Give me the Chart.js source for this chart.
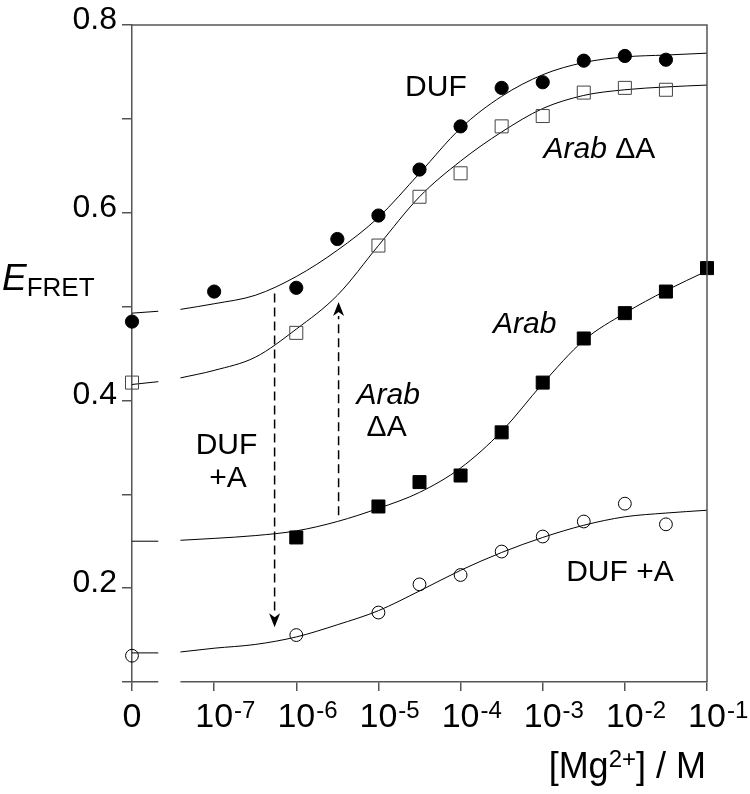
<!DOCTYPE html>
<html><head><meta charset="utf-8">
<script src="https://cdn.jsdelivr.net/npm/chart.js@4.4.1/dist/chart.umd.min.js"></script>
<style>html,body{margin:0;padding:0;background:#fff}#wrap{width:750px;height:794px}</style>
</head><body><div id="wrap"><canvas id="c" width="750" height="794"></canvas></div>
<script>
// x values are log10([Mg2+] / M); [Mg2+] = 0 is plotted on the stub at log position -8
const xTickValues = [-8, -7, -6, -5, -4, -3, -2, -1];
const xTickBase = ['0', '10', '10', '10', '10', '10', '10', '10'];
const xTickExp = ['', '-7', '-6', '-5', '-4', '-3', '-2', '-1'];
const yTickValues = [0.1, 0.2, 0.3, 0.4, 0.5, 0.6, 0.7, 0.8];
const yTickLabels = ['', '0.2', '', '0.4', '', '0.6', '', '0.8'];
const axisBreak = [-7.68, -7.41];

// measured points
const dufX = [-8, -7, -6, -5.5, -5, -4.5, -4, -3.5, -3, -2.5, -2, -1.5];
const dufY = [0.484, 0.516, 0.520, 0.572, 0.597, 0.646, 0.692, 0.733, 0.739, 0.762, 0.767, 0.763];
const arabDAX = [-8, -6, -5, -4.5, -4, -3.5, -3, -2.5, -2, -1.5];
const arabDAY = [0.419, 0.472, 0.565, 0.617, 0.642, 0.692, 0.703, 0.728, 0.733, 0.731];
const arabX = [-6, -5, -4.5, -4, -3.5, -3, -2.5, -2, -1.5, -1];
const arabY = [0.254, 0.287, 0.313, 0.320, 0.366, 0.419, 0.466, 0.493, 0.516, 0.541];
const dufAX = [-8, -6, -5, -4.5, -4, -3.5, -3, -2.5, -2, -1.5];
const dufAY = [0.128, 0.150, 0.174, 0.204, 0.214, 0.239, 0.255, 0.271, 0.290, 0.268];

// fitted curves (null = axis break)
const fitX = [-8, -7.68, -7.55, -7.41, -7, -6.5, -6, -5.5, -5, -4.5, -4, -3.5, -3, -2.5, -2, -1.5, -1];
const dufFit = [0.493, 0.495, null, 0.497, 0.503, 0.512, 0.532, 0.560, 0.595, 0.642, 0.690, 0.724, 0.747, 0.760, 0.766, 0.768, 0.770];
const arabDAFit = [0.417, 0.420, null, 0.424, 0.432, 0.446, 0.476, 0.512, 0.565, 0.617, 0.655, 0.686, 0.711, 0.725, 0.731, 0.734, 0.736];
const arabFit = [0.250, 0.250, null, 0.251, 0.253, 0.256, 0.261, 0.271, 0.285, 0.302, 0.328, 0.367, 0.418, 0.464, 0.493, 0.517, 0.538];
const dufAFit = [0.131, 0.131, null, 0.132, 0.136, 0.140, 0.148, 0.161, 0.176, 0.197, 0.219, 0.238, 0.254, 0.267, 0.276, 0.280, 0.283];

// annotation labels: [text, x, y, style]
const labels = [
  ['DUF', -4.30, 0.7246, false],
  ['Arab ΔA', -2.31, 0.6579, 'arab'],
  ['Arab', -3.22, 0.472, true],
  ['Arab', -4.88, 0.396, true],
  ['ΔA', -4.90, 0.3619, false],
  ['DUF', -6.85, 0.3427, false],
  ['+A', -6.83, 0.3078, false],
  ['DUF +A', -2.06, 0.2076, false]
];
// dashed arrows: [x, yFrom, yTo]
const arrows = [
  [-6.264, 0.5138, 0.1583],
  [-5.485, 0.2777, 0.5050]
];

const FONT = '"Liberation Sans", Arial, sans-serif';
const AXIS = '#555';
const XT = 34, XPAD = 6;
const pts = (xs, ys) => xs.map((x, i) => ({x, y: ys[i]}));
const curve = ys => ({
  type: 'line', data: fitX.map((x, i) => ({x, y: ys[i]})),
  borderColor: '#000', borderWidth: 1, pointRadius: 0, fill: false,
  cubicInterpolationMode: 'monotone', spanGaps: false, clip: false, order: 2
});
const marks = (xs, ys, style, r, fill, stroke) => ({
  type: 'scatter', data: pts(xs, ys), showLine: false, pointStyle: style,
  pointRadius: r, pointBackgroundColor: fill, pointBorderColor: stroke,
  pointBorderWidth: 1, clip: false, order: 1
});

const decor = {
  id: 'decor',
  afterDraw(chart) {
    const {ctx, chartArea: a, scales: {x, y}} = chart;
    ctx.save();
    // axis break gap
    ctx.fillStyle = '#fff';
    const g0 = x.getPixelForValue(axisBreak[0]), g1 = x.getPixelForValue(axisBreak[1]);
    ctx.fillRect(g0, a.bottom - 3, g1 - g0, 6);
    // top & right frame
    ctx.strokeStyle = AXIS; ctx.lineWidth = 1.5;
    ctx.beginPath(); ctx.moveTo(a.left, a.top); ctx.lineTo(a.right, a.top); ctx.lineTo(a.right, a.bottom); ctx.stroke();
    // exponents of x tick labels
    ctx.fillStyle = '#000'; ctx.textBaseline = 'alphabetic'; ctx.textAlign = 'left';
    const mid = a.bottom + 9 + XPAD + XT * 0.6;
    xTickValues.forEach((v, i) => {
      if (!xTickExp[i]) return;
      ctx.font = XT + 'px ' + FONT;
      const w = ctx.measureText(xTickBase[i]).width;
      ctx.font = '24px ' + FONT;
      ctx.fillText(xTickExp[i], x.getPixelForValue(v) + w / 2 + 1, mid + 1);
    });
    // y title
    ctx.font = 'italic 37px ' + FONT;
    ctx.fillText('E', 2, 290);
    const we = ctx.measureText('E').width;
    ctx.font = '26px ' + FONT;
    ctx.fillText('FRET', 2 + we, 296);
    // x title
    ctx.font = '36px ' + FONT;
    const p1 = '[Mg', p3 = '] / M';
    const w1 = ctx.measureText(p1).width, w3 = ctx.measureText(p3).width;
    ctx.font = '24px ' + FONT;
    const w2 = ctx.measureText('2+').width;
    const sx = 706 - (w1 + w2 + w3);
    ctx.font = '36px ' + FONT; ctx.fillText(p1, sx, 778);
    ctx.font = '24px ' + FONT; ctx.fillText('2+', sx + w1, 767);
    ctx.font = '36px ' + FONT; ctx.fillText(p3, sx + w1 + w2, 778);
    // annotation labels
    ctx.textAlign = 'center';
    labels.forEach(([t, lx, ly, it]) => {
      const px = x.getPixelForValue(lx), py = y.getPixelForValue(ly);
      if (it === 'arab') {
        ctx.font = 'italic 30px ' + FONT;
        const wa = ctx.measureText('Arab ').width;
        ctx.font = '30px ' + FONT;
        const wd = ctx.measureText('ΔA').width;
        const start = px - (wa + wd) / 2;
        ctx.textAlign = 'left';
        ctx.font = 'italic 30px ' + FONT; ctx.fillText('Arab ', start, py);
        ctx.font = '30px ' + FONT; ctx.fillText('ΔA', start + wa, py);
        ctx.textAlign = 'center';
      } else {
        ctx.font = (it ? 'italic ' : '') + '30px ' + FONT;
        ctx.fillText(t, px, py);
      }
    });
    // dashed arrows
    arrows.forEach(([ax, y0, y1]) => {
      const px = x.getPixelForValue(ax), p0 = y.getPixelForValue(y0), p1v = y.getPixelForValue(y1);
      const dir = p1v > p0 ? 1 : -1, head = 14;
      ctx.strokeStyle = '#000'; ctx.lineWidth = 1.5; ctx.setLineDash([9, 5]);
      ctx.beginPath(); ctx.moveTo(px, p0); ctx.lineTo(px, p1v - dir * head); ctx.stroke();
      ctx.setLineDash([]);
      ctx.fillStyle = '#000';
      ctx.beginPath(); ctx.moveTo(px, p1v); ctx.lineTo(px - 5.5, p1v - dir * head); ctx.lineTo(px, p1v - dir * (head - 4)); ctx.lineTo(px + 5.5, p1v - dir * head); ctx.closePath(); ctx.fill();
    });
    ctx.restore();
  }
};

new Chart(document.getElementById('c'), {
  type: 'scatter',
  data: {
    datasets: [
      curve(dufFit), curve(arabDAFit), curve(arabFit), curve(dufAFit),
      marks(dufX, dufY, 'circle', 6.6, '#000', '#000'),
      marks(arabDAX, arabDAY, 'rect', 9.2, 'rgba(0,0,0,0)', '#444'),
      marks(arabX, arabY, 'rect', 9.2, '#000', '#000'),
      marks(dufAX, dufAY, 'circle', 6.4, 'rgba(0,0,0,0)', '#000')
    ]
  },
  options: {
    responsive: false, animation: false, events: [],
    layout: {padding: {top: 25, right: 43, left: 0, bottom: 0}},
    plugins: {legend: {display: false}, tooltip: {enabled: false}},
    scales: {
      x: {
        type: 'linear', position: 'bottom', min: -8, max: -1,
        afterBuildTicks: s => { s.ticks = xTickValues.map(v => ({value: v})); },
        afterFit: s => { s.height = 112; },
        ticks: {
          padding: XPAD, color: '#000', font: {family: FONT, size: XT},
          maxRotation: 0, autoSkip: false,
          callback: v => xTickBase[xTickValues.indexOf(v)] ?? ''
        },
        grid: {drawOnChartArea: false, drawTicks: true, tickLength: 9, color: AXIS, lineWidth: 1.5},
        border: {display: true, color: AXIS, width: 1.5}
      },
      y: {
        type: 'linear', position: 'left', min: 0.1, max: 0.8,
        afterBuildTicks: s => { s.ticks = yTickValues.map(v => ({value: v})); },
        afterFit: s => { s.width = 132; },
        ticks: {
          padding: 5, labelOffset: -5, color: '#000', font: {family: FONT, size: 32}, autoSkip: false,
          callback: v => { const i = yTickValues.findIndex(t => Math.abs(t - v) < 1e-9); return i >= 0 ? yTickLabels[i] : ''; }
        },
        grid: {drawOnChartArea: false, drawTicks: true, tickLength: 10, color: AXIS, lineWidth: 1.5},
        border: {display: true, color: AXIS, width: 1.5}
      }
    }
  },
  plugins: [decor]
});
</script></body></html>
